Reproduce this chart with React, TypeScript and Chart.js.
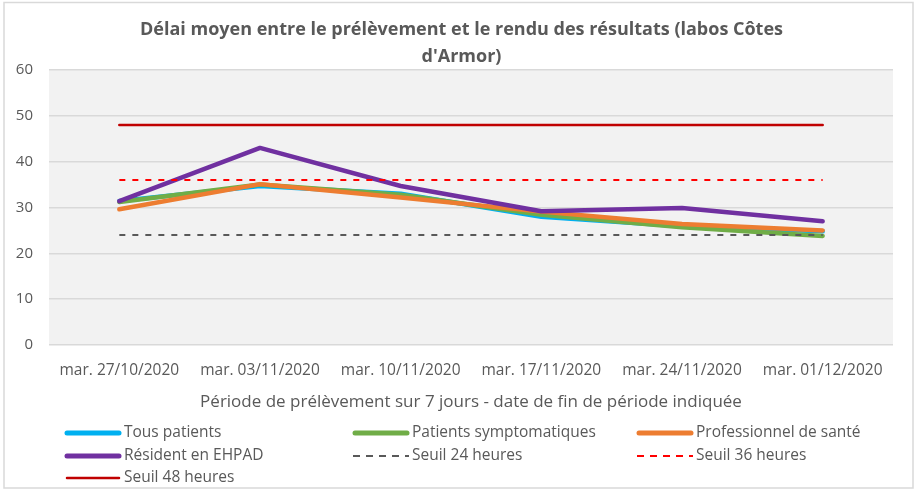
import React, { useEffect, useRef } from "react";
import { Chart, registerables } from "chart.js";

Chart.register(...registerables);

const categories = [
  "mar. 27/10/2020",
  "mar. 03/11/2020",
  "mar. 10/11/2020",
  "mar. 17/11/2020",
  "mar. 24/11/2020",
  "mar. 01/12/2020",
];

const tousPatients = [31.4, 34.7, 33.0, 28.0, 25.9, 24.8];
const patientsSymptomatiques = [31.2, 35.0, 32.8, 28.4, 25.7, 23.8];
const professionnelSante = [29.6, 35.1, 32.2, 29.1, 26.4, 25.0];
const residentEhpad = [31.4, 43.0, 34.7, 29.2, 29.9, 27.0];
const seuil24 = [24, 24, 24, 24, 24, 24];
const seuil36 = [36, 36, 36, 36, 36, 36];
const seuil48 = [48, 48, 48, 48, 48, 48];

const yTicks = [0, 10, 20, 30, 40, 50, 60];

const titleLines = [
  "Délai moyen entre le prélèvement et le rendu des résultats (labos Côtes",
  "d'Armor)",
];
const xTitle = "Période de prélèvement sur 7 jours - date de fin de période indiquée";

const FONT = "'Open Sans', 'Noto Sans', sans-serif";
const TEXT = "#595959";

const frame = {
  id: "frame",
  beforeDraw(chart: any) {
    const { ctx, chartArea } = chart;
    ctx.save();
    ctx.fillStyle = "#ffffff";
    ctx.fillRect(0, 0, chart.width, chart.height);
    ctx.strokeStyle = "#d9d9d9";
    ctx.lineWidth = 1.5;
    ctx.strokeRect(4, 2.5, 909, 485.5);
    ctx.fillStyle = "#f2f2f2";
    ctx.fillRect(chartArea.left, chartArea.top, chartArea.right - chartArea.left, chartArea.bottom - chartArea.top);
    ctx.restore();
  },
};

const legendGrid = {
  id: "legendGrid",
  afterDraw(chart: any) {
    const { ctx } = chart;
    const colX = [65, 353, 637];
    const rowY = [433, 456, 478];
    const lineLen = 56;
    ctx.save();
    ctx.font = `15.5px ${FONT}`;
    ctx.textBaseline = "middle";
    ctx.fillStyle = TEXT;
    chart.data.datasets.forEach((ds: any, i: number) => {
      const x = colX[i % 3];
      const y = rowY[Math.floor(i / 3)];
      ctx.save();
      ctx.strokeStyle = ds.borderColor;
      const dashed = ds.borderDash && ds.borderDash.length;
      ctx.lineWidth = dashed ? 2 : ds.borderWidth >= 4 ? 5 : 2.5;
      ctx.lineCap = dashed ? "butt" : "round";
      ctx.setLineDash(dashed ? [7, 6] : []);
      ctx.beginPath();
      ctx.moveTo(x + (dashed ? 0 : 2), y);
      ctx.lineTo(x + lineLen - (dashed ? 0 : 2), y);
      ctx.stroke();
      ctx.restore();
      ctx.fillText(ds.label, x + lineLen + 3, y);
    });
    ctx.restore();
  },
};

export default function App() {
  const ref = useRef<HTMLCanvasElement | null>(null);

  useEffect(() => {
    if (!ref.current) return;
    const mk = (label: string, data: number[], color: string, width: number, order: number, dash: number[] = []) => ({
      label,
      data,
      borderColor: color,
      backgroundColor: color,
      borderWidth: width,
      borderDash: dash,
      borderCapStyle: dash.length ? "butt" : "round",
      borderJoinStyle: "round",
      pointRadius: 0,
      pointHoverRadius: 0,
      tension: 0,
      fill: false,
      order,
      yAxisID: "y",
    });
    const chart = new Chart(ref.current, {
      type: "line",
      data: {
        labels: categories,
        datasets: [
          mk("Tous patients", tousPatients, "#00b0f0", 4.5, 7),
          mk("Patients symptomatiques", patientsSymptomatiques, "#70ad47", 4.5, 6),
          mk("Professionnel de santé", professionnelSante, "#ed7d31", 4.5, 5),
          mk("Résident en EHPAD", residentEhpad, "#7030a0", 4.5, 4),
          mk("Seuil 24 heures", seuil24, "#595959", 2, 3, [6, 7]),
          mk("Seuil 36 heures", seuil36, "#ff0000", 2, 2, [6, 7]),
          mk("Seuil 48 heures", seuil48, "#c00000", 2.5, 1),
        ] as any,
      },
      options: {
        responsive: false,
        animation: false,
        layout: { padding: { top: 0, left: 0, right: 0, bottom: 79 } },
        plugins: {
          legend: { display: false },
          tooltip: { enabled: false },
          title: {
            display: true,
            text: titleLines,
            color: TEXT,
            font: { family: FONT, size: 18, weight: "bold", lineHeight: 1.5 },
            padding: { top: 16, bottom: 0 },
          },
        },
        scales: {
          x: {
            type: "category",
            offset: true,
            grid: { display: false },
            border: { display: false },
            ticks: {
              color: TEXT,
              font: { family: FONT, size: 15.5 },
              padding: 8,
              maxRotation: 0,
              autoSkip: false,
            },
            title: {
              display: true,
              text: xTitle,
              color: TEXT,
              font: { family: FONT, size: 17 },
              padding: { top: 0, bottom: 0 },
            },
            afterFit(scale: any) {
              scale.height = 67;
            },
          },
          y: {
            position: "left",
            min: 0,
            max: 60,
            afterBuildTicks(scale: any) {
              scale.ticks = yTicks.map((v) => ({ value: v }));
            },
            grid: { color: "#d9d9d9", lineWidth: 1.5, drawTicks: false },
            border: { display: false },
            ticks: {
              color: TEXT,
              font: { family: FONT, size: 15 },
              padding: 16,
            },
            afterFit(scale: any) {
              scale.width = 49;
            },
          },
          yRight: {
            position: "right",
            min: 0,
            max: 60,
            grid: { display: false, drawTicks: false },
            border: { display: false },
            ticks: { display: false },
            afterFit(scale: any) {
              scale.width = 30;
            },
          },
        },
      } as any,
      plugins: [frame, legendGrid],
    });
    return () => chart.destroy();
  }, []);

  return (
    <div style={{ position: "absolute", left: 0, top: 0, width: 923, height: 491 }}>
      <canvas ref={ref} width={923} height={491} />
    </div>
  );
}
